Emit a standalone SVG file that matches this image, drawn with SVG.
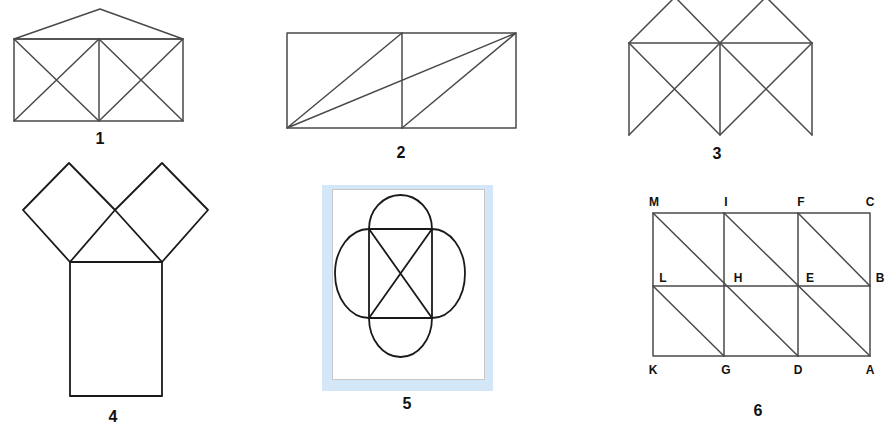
<svg xmlns="http://www.w3.org/2000/svg" width="892" height="427" viewBox="0 0 892 427">
<style>
.g{fill:none;stroke:#4a4a4a;stroke-width:1.5;stroke-linejoin:round;stroke-linecap:round}
.k{fill:none;stroke:#1a1a1a;stroke-width:1.8;stroke-linejoin:round}
.num{font-family:"Liberation Sans",Arial,sans-serif;font-weight:bold;font-size:16px;fill:#111;text-anchor:middle}
.lbl{font-family:"Liberation Sans",Arial,sans-serif;font-weight:bold;font-size:12px;fill:#111;text-anchor:middle}
</style>
<rect width="892" height="427" fill="#fff"/>
<g id="fig1">
<path class="g" d="M14,39 L100,9 L183,39 Z"/>
<rect class="g" x="14" y="39" width="169" height="82"/>
<line class="g" x1="99" y1="39" x2="99" y2="121"/>
<path class="g" d="M14,39 L99,121 M99,39 L14,121 M99,39 L183,121 M183,39 L99,121"/>
<text class="num" x="100" y="144">1</text>
</g>
<g id="fig2">
<rect class="g" x="287" y="33" width="229" height="95"/>
<line class="g" x1="402" y1="33" x2="402" y2="128"/>
<path class="g" d="M287,128 L402,33 M287,128 L516,33 M402,128 L516,33"/>
<text class="num" x="401" y="158">2</text>
</g>
<g id="fig3">
<path class="g" d="M629,43 L675,-3 L720,43 L766,-3 L812,43"/>
<line class="g" x1="629" y1="43" x2="812" y2="43"/>
<path class="g" d="M629,43 L629,135 M720,43 L720,135 M812,43 L812,135"/>
<path class="g" d="M629,43 L720,135 M720,43 L629,135 M720,43 L812,135 M812,43 L720,135"/>
<text class="num" x="717" y="159">3</text>
</g>
<g id="fig4">
<path class="k" d="M70,262 L23,210 L69,163 L115,210 Z"/>
<path class="k" d="M115,210 L162,163 L208,210 L162,262 Z"/>
<rect class="k" x="70" y="262" width="92" height="134"/>
<text class="num" x="113" y="422">4</text>
</g>
<g id="fig5">
<rect x="322" y="185" width="171" height="206" fill="#d3e7f8"/>
<rect x="332.5" y="189.5" width="152" height="190" fill="#fff" stroke="#c8c8c8" stroke-width="1"/>
<rect class="k" x="369" y="229" width="63" height="89"/>
<path class="k" d="M369,229 L432,318 M432,229 L369,318"/>
<path class="k" d="M369,229 A31.5,34 0 0 1 432,229"/>
<path class="k" d="M369,318 A31.5,39 0 0 0 432,318"/>
<path class="k" d="M369,229 A34,44.5 0 0 0 369,318"/>
<path class="k" d="M432,229 A33,44.5 0 0 1 432,318"/>
<text class="num" x="407" y="409">5</text>
</g>
<g id="fig6">
<rect class="g" x="653" y="213" width="217" height="143"/>
<path class="g" d="M653,286 L870,286 M724,213 L724,356 M798,213 L798,356"/>
<path class="g" d="M653,213 L798,356 M724,213 L870,356 M798,213 L870,286 M653,286 L724,356"/>
<text class="lbl" x="654" y="206">M</text>
<text class="lbl" x="726" y="206">I</text>
<text class="lbl" x="801" y="206">F</text>
<text class="lbl" x="870" y="206">C</text>
<text class="lbl" x="663" y="282">L</text>
<text class="lbl" x="738" y="282">H</text>
<text class="lbl" x="810" y="282">E</text>
<text class="lbl" x="880" y="282">B</text>
<text class="lbl" x="653" y="374">K</text>
<text class="lbl" x="726" y="374">G</text>
<text class="lbl" x="798" y="374">D</text>
<text class="lbl" x="870" y="374">A</text>
<text class="num" x="758" y="416">6</text>
</g>
</svg>
